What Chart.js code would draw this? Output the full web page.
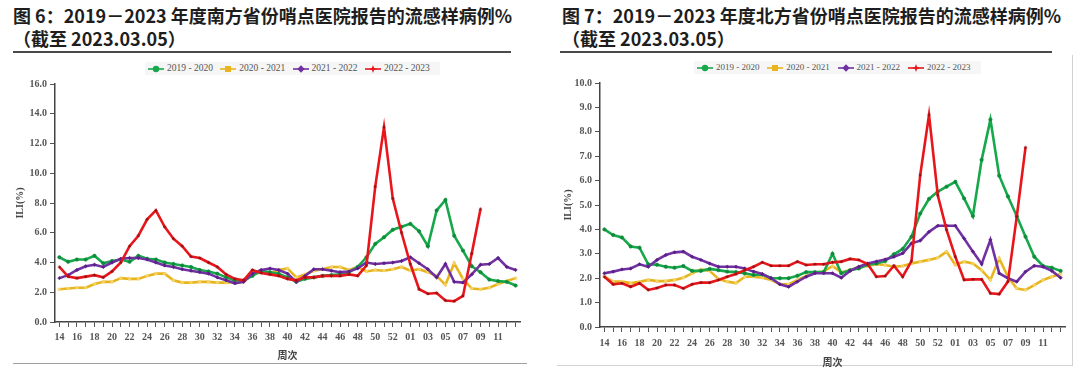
<!DOCTYPE html>
<html lang="zh-CN">
<head>
<meta charset="UTF-8">
<title>2019-2023 年度哨点医院报告的流感样病例%</title>
<script src="https://cdn.jsdelivr.net/npm/chart.js"></script>
<style>
    body { margin: 0; width: 1080px; height: 374px; background: #fff; position: relative; overflow: hidden; font-family: "Noto Sans CJK SC", sans-serif; }
    .title { position: absolute; top: 4px; font-size: 18px; line-height: 23px; font-weight: 700; color: #1e1e1e; white-space: nowrap; }
    .rule { position: absolute; top: 51px; height: 2px; background: #4a4a4a; }
    .legend { position: absolute; display: flex; background: #f6f6f6; padding: 1px 3px; font-family: "Liberation Serif", serif; color: #555; line-height: 11px; }
    .legend .item { display: flex; align-items: center; }
    .legend svg { margin-right: 3px; }
    canvas { position: absolute; }
</style>
</head>
<body>
    <div class="title" style="left:13px">图 6：2019－2023 年度南方省份哨点医院报告的流感样病例%<br>（截至 2023.03.05）</div>
    <div class="rule" style="left:13px; width:498px"></div>
    <div class="title" style="left:562px">图 7：2019－2023 年度北方省份哨点医院报告的流感样病例%<br>（截至 2023.03.05）</div>
    <div class="rule" style="left:560px; width:492px"></div>

    <div id="legend-south" class="legend" style="left:145px; top:62px; font-size:9.5px"></div>
    <div id="legend-north" class="legend" style="left:694px; top:61px; font-size:9px"></div>

    <canvas id="south" width="540" height="312" style="left:0; top:56px"></canvas>
    <div style="position:absolute; left:13px; top:363px; width:514px; height:1px; background:#a0a0a0"></div>

    <div style="position:absolute; left:557px; top:55px; width:515px; height:310px; border-right:1px solid #d2d2d2; border-bottom:1px solid #d2d2d2"></div>
    <canvas id="north" width="520" height="316" style="left:560px; top:56px"></canvas>

<script>
    // week numbers, season 14th week -> 13th week of next year (2020 had a week 53)
    const weeks = ['14','15','16','17','18','19','20','21','22','23','24','25','26','27','28','29','30','31','32','33',
        '34','35','36','37','38','39','40','41','42','43','44','45','46','47','48','49','50','51','52','53',
        '01','02','03','04','05','06','07','08','09','10','11','12','13'];

    const seasons = ['2019 - 2020', '2020 - 2021', '2021 - 2022', '2022 - 2023'];
    const colors = ['#17a84b', '#e9b51f', '#7131a1', '#e8161b'];
    const dotColors = ['#0d8c3a', '#f3d56a', '#5a1f88', '#8a0f12'];
    const markers = ['circle', 'rect', 'rectRot', 'star'];

    // south provinces, ILI%
    const south1920 = [4.35, 4.05, 4.2, 4.2, 4.45, 3.95, 4.1, 4.2, 4.05, 4.45, 4.25, 4.2, 4.0, 3.9, 3.8, 3.7, 3.5, 3.4, 3.25, 3.0,
        2.8, 2.8, 3.1, 3.45, 3.35, 3.25, 3.0, 2.7, 2.9, 3.0, 3.1, 3.15, 3.2, 3.35, 3.7, 4.35, 5.25, 5.7, 6.2, 6.4,
        6.6, 6.1, 5.1, 7.5, 8.2, 5.8, 4.8, 3.75, 3.35, 2.85, 2.75, 2.7, 2.45];
    const south2021 = [2.2, 2.25, 2.3, 2.3, 2.55, 2.7, 2.7, 2.95, 2.9, 2.9, 3.1, 3.25, 3.25, 2.8, 2.65, 2.65, 2.7, 2.7, 2.65, 2.65,
        2.7, 2.7, 3.2, 3.35, 3.25, 3.5, 3.6, 3.0, 3.2, 3.45, 3.55, 3.7, 3.7, 3.5, 3.7, 3.4, 3.5, 3.45, 3.55, 3.7,
        3.45, 3.55, 3.35, 3.1, 2.5, 3.95, 2.9, 2.25, 2.2, 2.3, 2.55, 2.75, 2.95];
    const south2122 = [2.95, 3.15, 3.5, 3.75, 3.85, 3.7, 4.0, 4.25, 4.3, 4.3, 4.2, 4.0, 3.8, 3.7, 3.55, 3.45, 3.35, 3.25, 3.0, 2.8,
        2.6, 2.7, 3.25, 3.5, 3.6, 3.5, 3.25, 2.7, 3.1, 3.55, 3.55, 3.45, 3.35, 3.4, 3.6, 4.0, 3.9, 3.95, 4.0, 4.1,
        4.35, 3.95, 3.55, 3.0, 3.9, 2.7, 2.65, 3.2, 3.85, 3.9, 4.3, 3.7, 3.5];
    const south2223 = [3.7, 3.05, 2.95, 3.05, 3.15, 3.0, 3.4, 4.0, 5.1, 5.8, 6.9, 7.5, 6.4, 5.6, 5.1, 4.4, 4.3, 4.0, 3.7, 3.2,
        2.9, 2.8, 3.5, 3.3, 3.2, 3.1, 2.9, 2.8, 3.0, 3.0, 3.1, 3.1, 3.1, 3.2, 3.1, 3.8, 9.1, 13.1, 8.3, 6.0,
        3.9, 2.2, 1.9, 1.95, 1.45, 1.4, 1.75, 4.6, 7.6, null, null, null, null];

    // north provinces, ILI%
    const north1920 = [4.0, 3.77, 3.67, 3.3, 3.25, 2.57, 2.55, 2.47, 2.43, 2.5, 2.3, 2.3, 2.38, 2.33, 2.27, 2.25, 2.2, 2.13, 2.15, 2.0,
        2.0, 2.0, 2.1, 2.25, 2.25, 2.25, 3.0, 2.2, 2.33, 2.4, 2.55, 2.6, 2.7, 2.98, 3.2, 3.7, 4.65, 5.25, 5.55, 5.75,
        5.95, 5.27, 4.55, 6.85, 8.5, 6.2, 5.35, 4.55, 3.7, 2.88, 2.5, 2.43, 2.3];
    const north2021 = [2.06, 1.86, 1.86, 1.8, 1.85, 1.93, 1.88, 1.88, 1.93, 2.02, 2.2, 2.36, 2.3, 1.97, 1.86, 1.8, 2.06, 2.06, 2.02, 1.93,
        1.75, 1.75, 1.93, 2.09, 2.23, 2.27, 2.5, 2.24, 2.33, 2.47, 2.5, 2.57, 2.54, 2.47, 2.5, 2.6, 2.68, 2.75, 2.84, 3.09,
        2.54, 2.68, 2.6, 2.33, 1.93, 2.81, 2.06, 1.58, 1.52, 1.72, 1.93, 2.06, 2.17];
    const north2122 = [2.2, 2.27, 2.36, 2.4, 2.57, 2.47, 2.75, 2.95, 3.06, 3.09, 2.88, 2.75, 2.6, 2.47, 2.47, 2.47, 2.4, 2.27, 2.17, 2.0,
        1.75, 1.65, 1.86, 2.06, 2.2, 2.2, 2.2, 2.02, 2.3, 2.47, 2.6, 2.68, 2.77, 2.88, 3.02, 3.43, 3.54, 3.9, 4.15, 4.15,
        4.15, 3.63, 3.09, 2.58, 3.57, 2.2, 2.0, 1.86, 2.27, 2.51, 2.47, 2.3, 2.02];
    const north2223 = [2.06, 1.75, 1.79, 1.65, 1.79, 1.52, 1.6, 1.72, 1.72, 1.58, 1.75, 1.82, 1.82, 1.93, 2.06, 2.17, 2.33, 2.47, 2.65, 2.51,
        2.51, 2.51, 2.68, 2.54, 2.57, 2.57, 2.65, 2.68, 2.79, 2.75, 2.58, 2.06, 2.09, 2.51, 2.06, 2.7, 6.23, 8.69, 5.4, 3.98,
        2.88, 1.93, 1.95, 1.95, 1.38, 1.35, 1.86, 4.52, 7.36, null, null, null, null];

    const tickFont = { family: 'Liberation Serif', size: 10, weight: 'bold' };

    function legendMarker(i) {
        const c = colors[i];
        let shape = '';
        if (i === 0) shape = `<circle cx="8" cy="4" r="3.2" fill="${c}"/>`;
        if (i === 1) shape = `<rect x="5" y="1" width="6" height="6" fill="${c}"/>`;
        if (i === 2) shape = `<polygon points="8,0.3 11.7,4 8,7.7 4.3,4" fill="${c}"/>`;
        if (i === 3) shape = `<polygon points="8,0 9.1,2.9 12,4 9.1,5.1 8,8 6.9,5.1 4,4 6.9,2.9" fill="${c}"/>`;
        return `<svg width="16" height="8"><line x1="0" y1="4" x2="16" y2="4" stroke="${c}" stroke-width="1.6"/>${shape}</svg>`;
    }

    function buildLegend(id, itemWidth) {
        document.getElementById(id).innerHTML = seasons.map((s, i) =>
            `<span class="item" style="width:${itemWidth}px">${legendMarker(i)}<span>${s}</span></span>`).join('');
    }

    function makeChart(id, series, yMax, yStep, box) {
        return new Chart(document.getElementById(id), {
            type: 'line',
            data: {
                labels: weeks,
                datasets: series.map((d, i) => ({
                    label: seasons[i],
                    data: d,
                    borderColor: colors[i],
                    backgroundColor: dotColors[i],
                    borderWidth: 2.6,
                    tension: 0,
                    pointStyle: markers[i],
                    pointRadius: 1.7,
                    pointBorderWidth: 0.6,
                    pointBorderColor: dotColors[i],
                    pointBackgroundColor: dotColors[i],
                    order: [2, 3, 1, 0][i]
                }))
            },
            options: {
                responsive: false,
                animation: false,
                layout: { padding: { top: box.top, right: box.right, left: 0, bottom: 0 } },
                plugins: { legend: { display: false }, tooltip: { enabled: false } },
                scales: {
                    x: {
                        offset: true,
                        grid: { drawOnChartArea: false, tickLength: 5, color: '#555' },
                        border: { color: '#444', width: 1.5 },
                        ticks: {
                            autoSkip: false, maxRotation: 0, padding: box.xPad,
                            font: tickFont, color: '#555',
                            // every other week is labelled, the last one (13) is not
                            callback: (v, i) => (i % 2 === 0 && i < weeks.length - 1) ? weeks[i] : ''
                        },
                        title: {
                            display: true, text: '周次', color: '#444',
                            font: { family: 'Noto Sans CJK SC', size: 10, weight: 'bold' },
                            padding: { top: 0, bottom: box.xTitle }
                        },
                        afterFit: s => { s.height = box.xh; }
                    },
                    y: {
                        min: 0, max: yMax,
                        grid: { drawOnChartArea: false, tickLength: 5, color: '#555' },
                        border: { color: '#444', width: 1.5 },
                        ticks: { stepSize: yStep, padding: 3, font: tickFont, color: '#555', callback: v => v.toFixed(1) },
                        title: {
                            display: true, text: 'ILI(%)', color: '#444',
                            font: { family: 'Liberation Serif', size: 10, weight: 'bold' },
                            padding: { top: box.yTitle, bottom: 0 }
                        },
                        afterFit: s => { s.width = box.yw; }
                    }
                }
            }
        });
    }

    buildLegend('legend-south', 72.3);
    buildLegend('legend-north', 70.3);

    makeChart('south', [south1920, south2021, south2122, south2223], 16, 2,
        { top: 28, right: 20, yw: 55, xh: 46, xPad: 4, xTitle: 7, yTitle: 14 });
    makeChart('north', [north1920, north2021, north2122, north2223], 10, 1,
        { top: 27, right: 15, yw: 40, xh: 45, xPad: 5, xTitle: 4, yTitle: 2 });
</script>
</body>
</html>
